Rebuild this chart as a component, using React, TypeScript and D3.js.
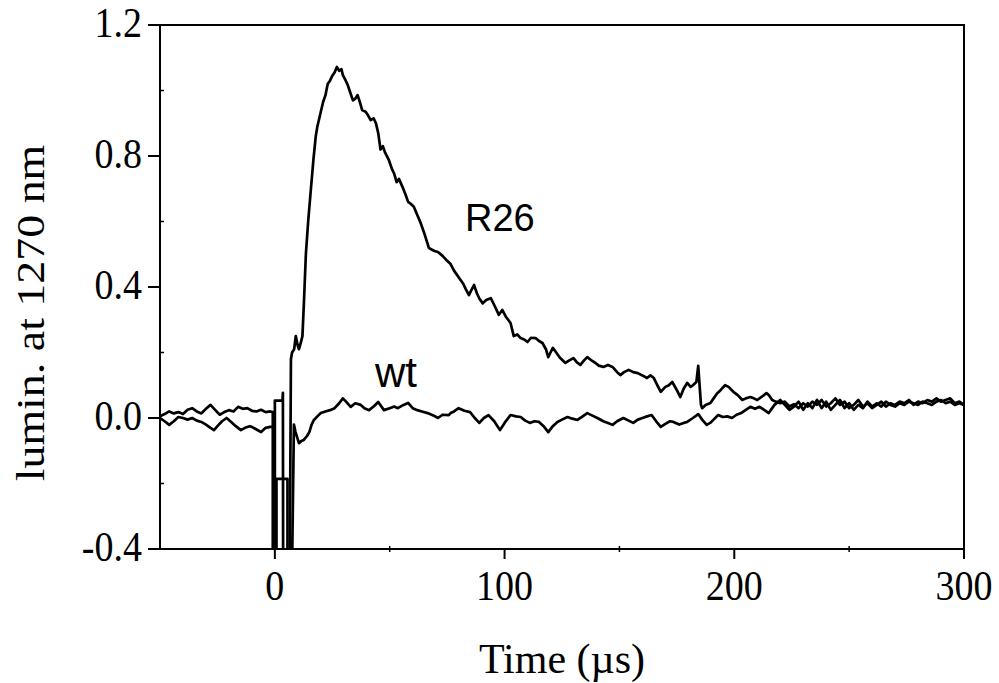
import { useEffect, useRef } from 'react'
import * as d3 from 'd3'

// time (µs) and luminescence at 1270 nm
const r26Time = [
  -50, -48, -46, -44, -42, -40, -38, -36, -34, -32, -30, -28, -26, -24, -22, -20, -18, -16, -14, -12, -10, -8, -6, -4, -2, -0.9,
  -0.9, 0, 0, 3.3, 3.5, 3.6, 6.5, 7, 7.5, 8.4, 9.1, 10, 10.5, 11.3, 12, 12.7, 13.5, 14.5, 15.7, 16.8, 17.8, 18.5, 19.5, 21, 22,
  23, 24, 25, 26, 27, 28, 29, 29.6, 30.5, 31.7, 33, 34, 35, 36, 37, 38, 39.5, 40.5, 41.7, 43, 44, 45, 46, 47, 48, 49.5, 51, 52,
  53, 54, 55.6, 57, 58, 59, 60.5, 62, 63.5, 65, 67, 68, 69.5, 71, 73, 75, 76.5, 78, 80, 82, 83, 84.5, 85.5, 86.7, 88, 89, 90.5,
  92, 94, 95.5, 97.5, 99, 100.5, 102.6, 104, 105.5, 107, 108.5, 110, 111.5, 113.5, 115, 116.5, 118, 119, 120, 121, 122.5, 124,
  126.5, 128, 130, 131.5, 133, 134.5, 136, 138, 139.6, 141, 143, 145, 147, 149, 150.4, 152, 154, 156, 158, 160, 162, 163.5, 165,
  166.5, 168, 170, 171.5, 173, 175, 176.5, 178, 179.5, 181, 182, 183.5, 184.3, 185.5, 186, 187.5, 189.6, 191, 192.5, 194, 196,
  197.5, 199.6, 201.5, 203.5, 205, 207, 208.5, 210, 212, 214, 215, 216.5, 218, 220, 222, 224, 226, 228, 230, 232, 234, 236, 238,
  240, 242, 244, 246, 248, 250, 252, 254, 256, 258, 260, 262, 264, 266, 268, 270, 272, 274, 276, 278, 280, 282, 284, 286, 288,
  290, 292, 294, 296, 298, 300,
]
const r26Lumin = [
  0.005, 0.012, 0.02, 0.014, 0.018, 0.012, 0.025, 0.03, 0.02, 0.014, 0.028, 0.04, 0.025, 0.01, 0.018, 0.024, 0.02, 0.034, 0.028,
  0.03, 0.022, 0.02, 0.025, 0.018, 0.02, 0.018,
  -0.45, -0.45, 0.053, 0.053, 0.077, -0.45, -0.45, 0.18, 0.2, 0.21, 0.25, 0.22, 0.21, 0.23, 0.25, 0.36, 0.5, 0.6, 0.7, 0.79, 0.86,
  0.89, 0.92, 0.965, 0.985, 1.02, 1.03, 1.045, 1.055, 1.072, 1.06, 1.065, 1.047, 1.035, 1.017, 0.99, 0.97, 0.975, 0.986, 0.965,
  0.94, 0.935, 0.925, 0.91, 0.915, 0.9, 0.87, 0.82, 0.83, 0.81, 0.79, 0.76, 0.745, 0.72, 0.73, 0.705, 0.68, 0.66, 0.655, 0.645,
  0.62, 0.595, 0.565, 0.52, 0.515, 0.51, 0.507, 0.495, 0.48, 0.47, 0.45, 0.43, 0.41, 0.395, 0.375, 0.39, 0.406, 0.38, 0.365, 0.35,
  0.36, 0.366, 0.345, 0.315, 0.33, 0.31, 0.29, 0.25, 0.255, 0.244, 0.24, 0.232, 0.245, 0.244, 0.235, 0.229, 0.21, 0.186, 0.2,
  0.214, 0.2, 0.185, 0.168, 0.175, 0.183, 0.17, 0.162, 0.175, 0.186, 0.175, 0.168, 0.16, 0.156, 0.162, 0.156, 0.14, 0.131, 0.14,
  0.147, 0.14, 0.137, 0.13, 0.122, 0.13, 0.122, 0.1, 0.08, 0.095, 0.1, 0.11, 0.085, 0.064, 0.09, 0.107, 0.095, 0.1, 0.11, 0.159,
  0.04, 0.03, 0.04, 0.046, 0.06, 0.075, 0.085, 0.1, 0.095, 0.08, 0.07, 0.055, 0.06, 0.064, 0.06, 0.055, 0.065, 0.076, 0.07, 0.055,
  0.05, 0.045, 0.05, 0.035, 0.042, 0.03, 0.045, 0.035, 0.05, 0.04, 0.055, 0.035, 0.045, 0.06, 0.04, 0.05, 0.03, 0.04, 0.055, 0.035,
  0.045, 0.03, 0.04, 0.05, 0.035, 0.045, 0.04, 0.05, 0.045, 0.055, 0.04, 0.05, 0.045, 0.055, 0.05, 0.06, 0.05, 0.055, 0.06, 0.045,
  0.05, 0.04,
]

const wtTime = [
  -50, -48, -46, -44, -42, -40, -38, -36, -34, -32, -30, -28, -26.5, -25, -23, -21, -19, -17, -14.8, -13, -11, -10, -8, -6, -4, -2,
  -0.3, -0.3, 0.7, 0.7, 5.5, 5.5, 7.5, 8.3, 9, 10.5, 11.5, 12.6, 14, 15, 16, 17, 18.5, 20, 22, 24, 26, 28, 29.6, 31, 33, 35, 37.4,
  39, 41, 43, 45, 47.5, 50, 52, 53.5, 56, 58, 60, 62, 64, 66.5, 69, 71, 73, 75.7, 76.5, 78, 80, 82.5, 85, 87, 89, 91, 93, 95.5, 98,
  100, 102.6, 105, 107, 109, 111, 113, 115, 117, 119, 121, 123, 125, 127.4, 129.5, 131.7, 134, 136, 138, 140.4, 143, 145, 147,
  149, 151.7, 154, 156, 158, 160, 162, 164, 166, 168, 170, 172, 173.5, 176, 178, 179.5, 182, 184.3, 186, 188, 189.5, 191, 193,
  195, 197, 199, 201, 203, 205, 207, 209, 211, 213, 215, 217.5, 220, 222, 224, 226, 228, 230, 232, 234, 236, 238, 240, 242, 244,
  246, 248, 250, 252, 254, 256, 258, 260, 262, 264, 266, 268, 270, 272, 274, 276, 278, 280, 282, 284, 286, 288, 290, 292, 294,
  296, 298, 300,
]
const wtLumin = [
  0.0, -0.01, -0.021, -0.01, 0.003, 0.0, -0.005, 0.0, -0.008, -0.012, -0.02, -0.03, -0.037, -0.025, -0.01, 0.0, -0.012, -0.025,
  -0.037, -0.03, -0.025, -0.027, -0.035, -0.043, -0.03, -0.027,
  -0.027, -0.45, -0.45, -0.186, -0.186, -0.45, -0.45, -0.02, -0.043, -0.077, -0.07, -0.067, -0.055, -0.043, -0.02, -0.006, 0.005,
  0.015, 0.02, 0.024, 0.03, 0.045, 0.06, 0.05, 0.034, 0.045, 0.04, 0.03, 0.024, 0.035, 0.049, 0.024, 0.03, 0.035, 0.03, 0.04,
  0.046, 0.03, 0.024, 0.02, 0.015, 0.008, 0.0, 0.01, 0.009, 0.015, 0.02, 0.03, 0.022, 0.018, 0.0, -0.015, 0.0, 0.009, -0.01,
  -0.037, -0.015, 0.009, 0.005, 0.003, -0.008, -0.015, -0.01, -0.012, -0.025, -0.043, -0.025, -0.012, -0.005, 0.003, -0.002,
  -0.006, 0.005, 0.015, 0.008, 0.0, -0.01, -0.015, -0.021, -0.01, 0.0, -0.008, -0.015, -0.005, 0.0, 0.005, 0.009, -0.01, -0.027,
  -0.018, -0.01, -0.012, -0.02, -0.015, -0.012, 0.0, 0.012, -0.005, -0.021, -0.015, -0.005, 0.009, 0.003, 0.005, 0.0, 0.01, 0.015,
  0.025, 0.034, 0.028, 0.034, 0.025, 0.015, 0.04, 0.055, 0.04, 0.025, 0.035, 0.05, 0.025, 0.045, 0.03, 0.055, 0.03, 0.05, 0.025,
  0.04, 0.055, 0.03, 0.045, 0.025, 0.04, 0.03, 0.05, 0.035, 0.045, 0.035, 0.05, 0.04, 0.035, 0.045, 0.04, 0.05, 0.045, 0.04, 0.05,
  0.045, 0.04, 0.05, 0.055, 0.045, 0.05, 0.04, 0.045, 0.04,
]

const xMajorTicks = [0, 100, 200, 300]
const xMinorTicks = [50, 150, 250]
const yMajorTicks = [-0.4, 0.0, 0.4, 0.8, 1.2]
const yMinorTicks = [-0.2, 0.2, 0.6, 1.0]

export default function App() {
  const svgRef = useRef<SVGSVGElement>(null)

  useEffect(() => {
    if (!svgRef.current) return

    const width = 999
    const height = 683
    const left = 160
    const right = 964
    const top = 25
    const bottom = 549
    const serif = '"Liberation Serif", "Times New Roman", serif'
    const sans = '"Liberation Sans", Arial, sans-serif'

    d3.select(svgRef.current).selectAll('*').remove()

    const svg = d3
      .select(svgRef.current)
      .attr('width', width)
      .attr('height', height)
      .style('background', '#fff')

    const x = d3.scaleLinear().domain([-50, 300]).range([left, right])
    const y = d3.scaleLinear().domain([-0.4, 1.2]).range([bottom, top])

    svg
      .append('clipPath')
      .attr('id', 'plot-clip')
      .append('rect')
      .attr('x', left)
      .attr('y', top)
      .attr('width', right - left)
      .attr('height', bottom - top)

    const drawTrace = (ts: number[], vs: number[]) => {
      const pts: [number, number][] = ts.map((t, i) => [x(t), y(vs[i])])
      svg
        .append('path')
        .attr('d', d3.line()(pts))
        .attr('fill', 'none')
        .attr('stroke', '#000')
        .attr('stroke-width', 2.7)
        .attr('stroke-linejoin', 'round')
        .attr('clip-path', 'url(#plot-clip)')
    }

    drawTrace(wtTime, wtLumin)
    drawTrace(r26Time, r26Lumin)

    // frame
    svg
      .append('rect')
      .attr('x', left)
      .attr('y', top)
      .attr('width', right - left)
      .attr('height', bottom - top)
      .attr('fill', 'none')
      .attr('stroke', '#000')
      .attr('stroke-width', 2)

    // x ticks
    svg
      .selectAll('.xmaj')
      .data(xMajorTicks)
      .enter()
      .append('line')
      .attr('x1', d => x(d))
      .attr('x2', d => x(d))
      .attr('y1', bottom)
      .attr('y2', bottom + 10)
      .attr('stroke', '#000')
      .attr('stroke-width', 2)

    svg
      .selectAll('.xmin')
      .data(xMinorTicks)
      .enter()
      .append('line')
      .attr('x1', d => x(d))
      .attr('x2', d => x(d))
      .attr('y1', bottom - 3)
      .attr('y2', bottom + 3)
      .attr('stroke', '#000')
      .attr('stroke-width', 1.5)

    // tick labels are a little taller than plain Times in the original
    svg
      .selectAll('.xlab')
      .data(xMajorTicks)
      .enter()
      .append('text')
      .attr('transform', d => `translate(${x(d)}, 600) scale(1, 1.1)`)
      .attr('text-anchor', 'middle')
      .style('font-family', serif)
      .style('font-size', '38px')
      .text(d => d3.format('d')(d))

    // y ticks
    svg
      .selectAll('.ymaj')
      .data(yMajorTicks)
      .enter()
      .append('line')
      .attr('x1', left - 12)
      .attr('x2', left)
      .attr('y1', d => y(d))
      .attr('y2', d => y(d))
      .attr('stroke', '#000')
      .attr('stroke-width', 2)

    svg
      .selectAll('.ymin')
      .data(yMinorTicks)
      .enter()
      .append('line')
      .attr('x1', left)
      .attr('x2', left + 4)
      .attr('y1', d => y(d))
      .attr('y2', d => y(d))
      .attr('stroke', '#000')
      .attr('stroke-width', 1.5)

    svg
      .selectAll('.ylab')
      .data(yMajorTicks)
      .enter()
      .append('text')
      .attr('transform', d => `translate(142, ${y(d) + 12}) scale(1, 1.1)`)
      .attr('text-anchor', 'end')
      .style('font-family', serif)
      .style('font-size', '38px')
      .text(d => d3.format('.1f')(d).replace('−', '-'))

    // axis titles
    svg
      .append('text')
      .attr('transform', `translate(44, 313) rotate(-90) scale(1.12, 1)`)
      .attr('text-anchor', 'middle')
      .style('font-family', serif)
      .style('font-size', '41px')
      .text('lumin. at 1270 nm')

    svg
      .append('text')
      .attr('x', (left + right) / 2)
      .attr('y', 673)
      .attr('text-anchor', 'middle')
      .style('font-family', serif)
      .style('font-size', '42px')
      .text('Time (µs)')

    // series labels
    svg
      .append('text')
      .attr('x', 465)
      .attr('y', 231)
      .style('font-family', sans)
      .style('font-size', '38px')
      .text('R26')

    svg
      .append('text')
      .attr('x', 375)
      .attr('y', 387)
      .style('font-family', sans)
      .style('font-size', '42px')
      .text('wt')
  }, [])

  return (
    <div style={{ position: 'absolute', left: 0, top: 0 }}>
      <svg ref={svgRef} style={{ display: 'block' }}></svg>
    </div>
  )
}
